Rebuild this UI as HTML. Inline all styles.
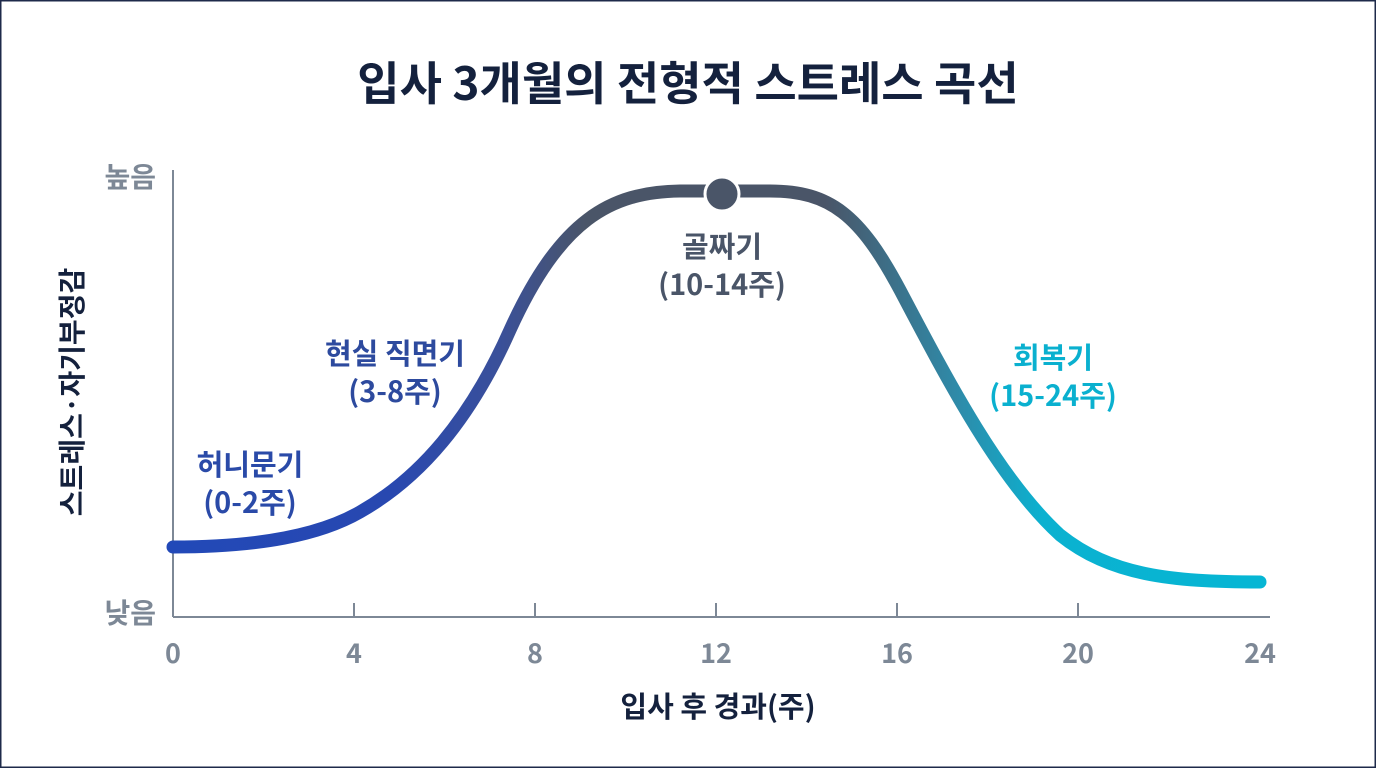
<!DOCTYPE html>
<html><head><meta charset="utf-8"><style>
html,body{margin:0;padding:0;background:#fff;}
body{width:1376px;height:768px;overflow:hidden;}
svg text{font-family:"Noto Sans CJK KR","Liberation Sans",sans-serif;}
</style></head><body>
<svg width="1376" height="768" viewBox="0 0 1376 768" xmlns="http://www.w3.org/2000/svg">
<defs>
<linearGradient id="g" x1="173" y1="0" x2="1260" y2="0" gradientUnits="userSpaceOnUse">
<stop offset="0" stop-color="#2249b8"/>
<stop offset="0.2" stop-color="#2848b0"/>
<stop offset="0.3" stop-color="#3a509a"/>
<stop offset="0.38" stop-color="#4a5568"/>
<stop offset="0.6" stop-color="#4a5568"/>
<stop offset="0.72" stop-color="#2f8aa8"/>
<stop offset="0.8" stop-color="#0bb1d0"/>
<stop offset="1" stop-color="#06b6d4"/>
</linearGradient>
</defs>
<rect x="0" y="0" width="1376" height="768" fill="none" stroke="#1e2a4a" stroke-width="3"/>
<text x="688" y="100" text-anchor="middle" font-size="46" font-weight="bold" fill="#14213d">입사 3개월의 전형적 스트레스 곡선</text>
<line x1="173" y1="170" x2="173" y2="617" stroke="#7d8896" stroke-width="2"/>
<line x1="173" y1="617" x2="1270" y2="617" stroke="#7d8896" stroke-width="2"/>
<g stroke="#7d8896" stroke-width="2">
<line x1="354" y1="603" x2="354" y2="617"/><line x1="535" y1="603" x2="535" y2="617"/>
<line x1="716" y1="603" x2="716" y2="617"/><line x1="897" y1="603" x2="897" y2="617"/>
<line x1="1078" y1="603" x2="1078" y2="617"/>
</g>
<g font-size="27" fill="#7d8896" text-anchor="middle" font-weight="bold">
<text x="173" y="663">0</text><text x="354" y="663">4</text><text x="535" y="663">8</text>
<text x="716" y="663">12</text><text x="897" y="663">16</text><text x="1078" y="663">20</text><text x="1260" y="663">24</text>
</g>
<g font-size="28" fill="#7d8896" font-weight="bold" text-anchor="end">
<text x="156" y="187">높음</text><text x="156" y="623">낮음</text>
</g>
<text x="718" y="717" text-anchor="middle" font-size="29" font-weight="bold" fill="#14213d">입사 후 경과(주)</text>
<text transform="translate(82,392) rotate(-90)" text-anchor="middle" font-size="28" font-weight="bold" fill="#14213d">스트레스·자기부정감</text>
<path d="M173,547 C260,547 320,535 360,512 C420,478 470,420 510,330 C560,220 610,192 680,191 L770,191 C830,191 860,215 900,290 C950,385 1000,480 1060,535 C1110,575 1170,582 1260,582" fill="none" stroke="url(#g)" stroke-width="13" stroke-linecap="round"/>
<circle cx="722" cy="194" r="17" fill="#4a5568" stroke="#fff" stroke-width="3"/>
<g font-size="29" font-weight="bold" text-anchor="middle">
<text x="250" y="475" fill="#2a4aa8">허니문기</text><text x="250" y="513" fill="#2a4aa8">(0-2주)</text>
<text x="395" y="364" fill="#2d4a9e">현실 직면기</text><text x="395" y="402" fill="#2d4a9e">(3-8주)</text>
<text x="722" y="257" fill="#4a5568">골짜기</text><text x="722" y="295" fill="#4a5568">(10-14주)</text>
<text x="1053" y="368" fill="#0ab0cf">회복기</text><text x="1053" y="406" fill="#0ab0cf">(15-24주)</text>
</g>
</svg>
</body></html>
